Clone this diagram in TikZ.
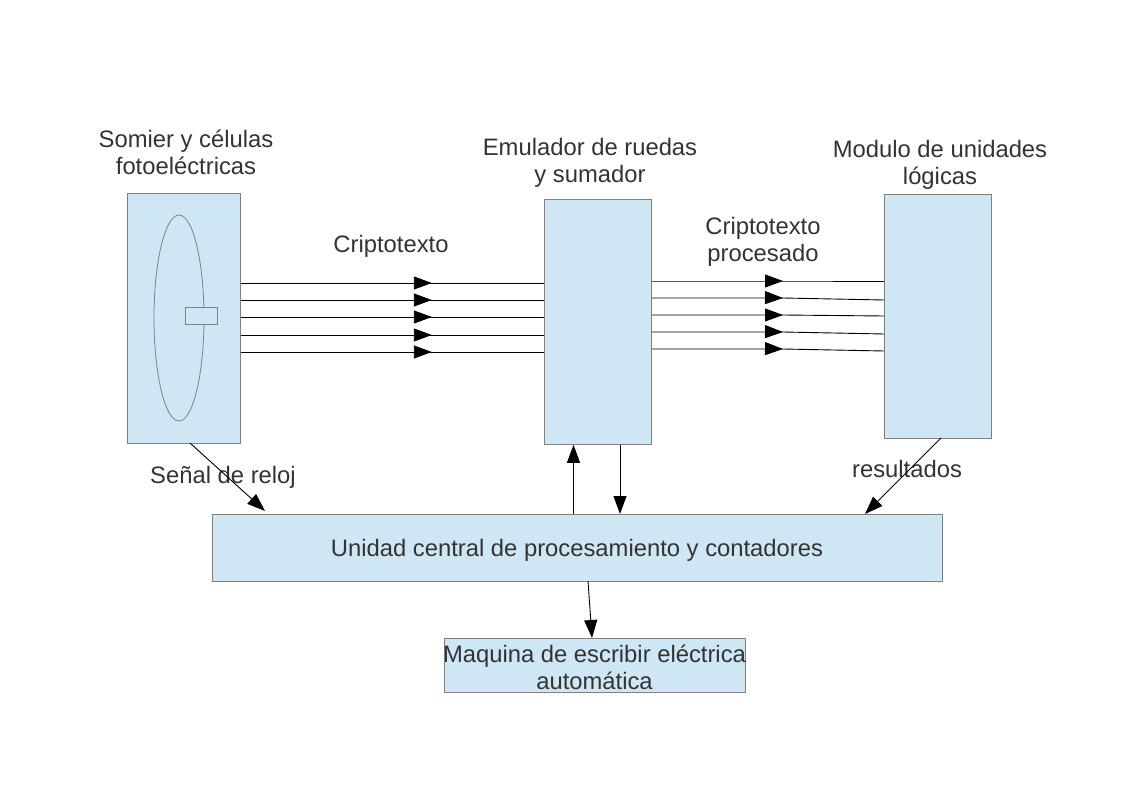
\documentclass[tikz,border=0pt]{standalone}
\usepackage{fontspec}
\setmainfont{Liberation Sans}
\usetikzlibrary{arrows.meta,decorations.markings}
\definecolor{boxfill}{RGB}{207,231,245}
\definecolor{boxline}{RGB}{128,128,128}
\definecolor{txt}{RGB}{51,51,51}
\begin{document}
\begin{tikzpicture}[x=1pt,y=-1pt,
  blk/.style={draw=boxline,fill=boxfill,line width=0.8pt,inner sep=0pt,anchor=north west},
  lbl/.style={text=txt,font=\fontsize{23.8}{27}\selectfont,align=center,inner sep=0pt,yshift=-2pt},
  tip/.style={-{Triangle[length=18pt,width=13pt]}},
  conn/.style={line width=0.9pt,black},
  midA/.style={postaction={decorate},decoration={markings,mark=at position #1 with {\arrow{Triangle[length=18pt,width=13pt]}}}}
]
\useasboundingbox (0,0) rectangle (1123,794);
\fill[white] (0,0) rectangle (1123,794);
% boxes
\node[blk,minimum width=113pt,minimum height=250pt] (b1) at (127,193) {};
\node[blk,minimum width=107pt,minimum height=245pt] (b2) at (544,199) {};
\node[blk,minimum width=107pt,minimum height=244pt] (b3) at (884,194) {};
\node[blk,minimum width=730pt,minimum height=67pt] (cpu) at (212,514) {};
\node[blk,minimum width=301pt,minimum height=54pt] (mq) at (444,638) {};
% ellipse and small rect inside b1
\draw[boxline,line width=0.8pt] (179,318) ellipse [x radius=25, y radius=103];
\node[draw=boxline,line width=0.8pt,fill=boxfill,minimum width=32pt,minimum height=17pt,inner sep=0pt] (sr) at (201,315.5) {};
% titles
\node[lbl] (t1) at (186,150) {Somier y células\\fotoeléctricas};
\node[lbl] (t2) at (590,160.5) {Emulador de ruedas\\y sumador};
\node[lbl] (t3) at (940,162.5) {Modulo de unidades\\lógicas};
\node[lbl] (t4) at (391,244) {Criptotexto};
\node[lbl] (t5) at (763,239.5) {Criptotexto\\procesado};
\node[lbl] (t6) at (577,548) {Unidad central de procesamiento y contadores};
\node[lbl] (t7) at (594.5,665.5) {Maquina de escribir eléctrica\\automática};
\node[lbl] (t8) at (223,475) {Señal de reloj};
\node[lbl] (t9) at (907,467) {resultados};
% parallel lines b1 -> b2
\foreach \yy in {283,300,317,335,352}{
  \draw[conn,midA=0.63] (b1.east |- 0,\yy) -- (b2.west |- 0,\yy);
}
% parallel lines b2 -> b3 (with slight kinks)
\foreach \ya/\yb in {281/281,298/300,315/316,332/334,349/351}{
  \draw[conn,midA=0.565] (b2.east |- 0,\ya) -- (783,\ya) -- (b3.west |- 0,\yb);
}
% vertical and diagonal connectors
\coordinate (s1) at (190,443);
\coordinate (e1) at (265,511);
\draw[conn,tip] (s1) -- (e1);
\coordinate (s2) at (941,438);
\coordinate (e2) at (865,514);
\draw[conn,tip] (s2) -- (e2);
\draw[conn,tip] (cpu.north -| 573.5,0) -- (b2.south -| 573.5,0);
\draw[conn,tip] (b2.south -| 620,0) -- (cpu.north -| 620,0);
\coordinate (s3) at (588,581);
\draw[conn,tip] (s3) -- (mq.north -| 592,0);
\end{tikzpicture}
\end{document}
